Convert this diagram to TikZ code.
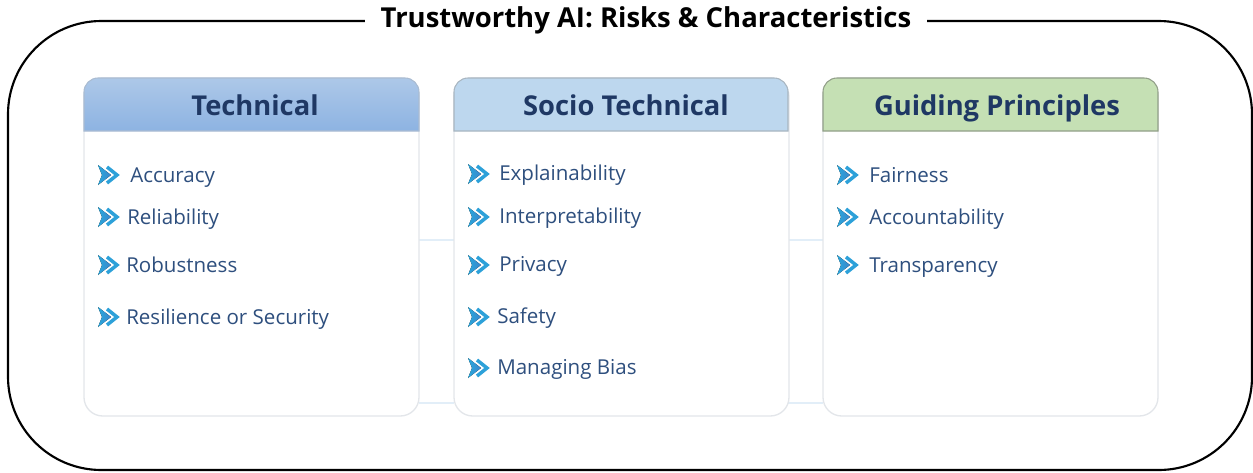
\documentclass[tikz,border=0pt]{standalone}
\usepackage{fontspec}
\setmainfont{Open Sans}
\usetikzlibrary{calc}
\definecolor{hdrtext}{HTML}{1F3864}
\definecolor{itemtext}{HTML}{2E4F7E}
\definecolor{techA}{HTML}{ADC8E8}
\definecolor{techB}{HTML}{8DB3E2}
\definecolor{socio}{HTML}{BDD7EE}
\definecolor{guide}{HTML}{C5E0B4}
\definecolor{boxline}{HTML}{E3E6EA}
\definecolor{conn}{HTML}{E2EEF8}
\definecolor{iconA}{HTML}{29A8DC}
\definecolor{iconB}{HTML}{3B86CC}
\tikzset{
  panel/.style={draw=boxline, line width=1pt, rounded corners=14, fill=white},
  hdrtxt/.style={font=\fontsize{20.5}{24}\selectfont\bfseries, text=hdrtext, anchor=base},
  itemtxt/.style={font=\fontsize{15.4}{18}\selectfont, text=itemtext, anchor=base west, inner sep=0},
  connline/.style={draw=conn, line width=2.2pt},
}
\newcommand{\bulleticon}[1]{%
  \begin{scope}[shift={(#1)}]
    \fill[left color=iconA, right color=iconB] (-10,-10) -- (3,0) -- (-10,10) -- (-6,0) -- cycle;
    \draw[iconA!80!iconB, line width=2.6pt, line join=miter] (-1,-8) -- (9,0) -- (-1,8);
  \end{scope}}
\begin{document}
\begin{tikzpicture}[x=0.75pt,y=-0.75pt]
\useasboundingbox (0,0) rectangle (1253,472);
% outer frame
\draw[line width=1.6pt, rounded corners=70] (646,21) -- (1252,21) -- (1252,470) -- (8,470) -- (8,21) -- cycle;
\node[fill=white, inner xsep=12, inner ysep=6, font=\fontsize{20.6}{24}\selectfont\bfseries] (title) at (646,20) {Trustworthy AI: Risks \& Characteristics};
% connectors (drawn between panels)
\coordinate (c1a) at (419,240); \coordinate (c1b) at (454,240);
\coordinate (c2a) at (419,403); \coordinate (c2b) at (454,403);
\coordinate (c3a) at (788,240); \coordinate (c3b) at (823,240);
\coordinate (c4a) at (788,403); \coordinate (c4b) at (823,403);
\draw[connline] (c1a) -- (c1b);
\draw[connline] (c2a) -- (c2b);
\draw[connline] (c3a) -- (c3b);
\draw[connline] (c4a) -- (c4b);
% panels
\foreach \x/\n in {84/t,454/s,823/g}{
  \draw[panel] (\x,78) rectangle ++(335,338);
}
% headers
\path[draw=techB!80!black!60, line width=0.8pt, top color=techA, bottom color=techB]
  (84,131) -- (84,92) arc[start angle=180,end angle=270,radius=14] -- (405,78) arc[start angle=270,end angle=360,radius=14] -- (419,131) -- cycle;
\path[draw=socio!70!black!70, line width=0.8pt, fill=socio]
  (454,131) -- (454,92) arc[start angle=180,end angle=270,radius=14] -- (774,78) arc[start angle=270,end angle=360,radius=14] -- (788,131) -- cycle;
\path[draw=guide!60!black!80, line width=0.8pt, fill=guide]
  (823,131) -- (823,92) arc[start angle=180,end angle=270,radius=14] -- (1144,78) arc[start angle=270,end angle=360,radius=14] -- (1158,131) -- cycle;
\node[hdrtxt] (ht) at (255,115) {Technical};
\node[hdrtxt] (hs) at (626,115) {Socio Technical};
\node[hdrtxt] (hg) at (997,115) {Guiding Principles};
% items: technical
\bulleticon{108,175}\node[itemtxt] (t1) at (130,182) {Accuracy};
\bulleticon{108,217}\node[itemtxt] (t2) at (127,224) {Reliability};
\bulleticon{108,265}\node[itemtxt] (t3) at (126,272) {Robustness};
\bulleticon{108,317}\node[itemtxt] (t4) at (126,324) {Resilience or Security};
% items: socio technical
\bulleticon{478,174}\node[itemtxt] (s1) at (499,180) {Explainability};
\bulleticon{478,217}\node[itemtxt] (s2) at (499,223) {Interpretability};
\bulleticon{478,265}\node[itemtxt] (s3) at (499,271) {Privacy};
\bulleticon{478,317}\node[itemtxt] (s4) at (497,323) {Safety};
\bulleticon{478,368}\node[itemtxt] (s5) at (497,374) {Managing Bias};
% items: guiding
\bulleticon{847,175}\node[itemtxt] (g1) at (869,182) {Fairness};
\bulleticon{847,217}\node[itemtxt] (g2) at (869,224) {Accountability};
\bulleticon{847,265}\node[itemtxt] (g3) at (869,272) {Transparency};
\end{tikzpicture}
\end{document}
